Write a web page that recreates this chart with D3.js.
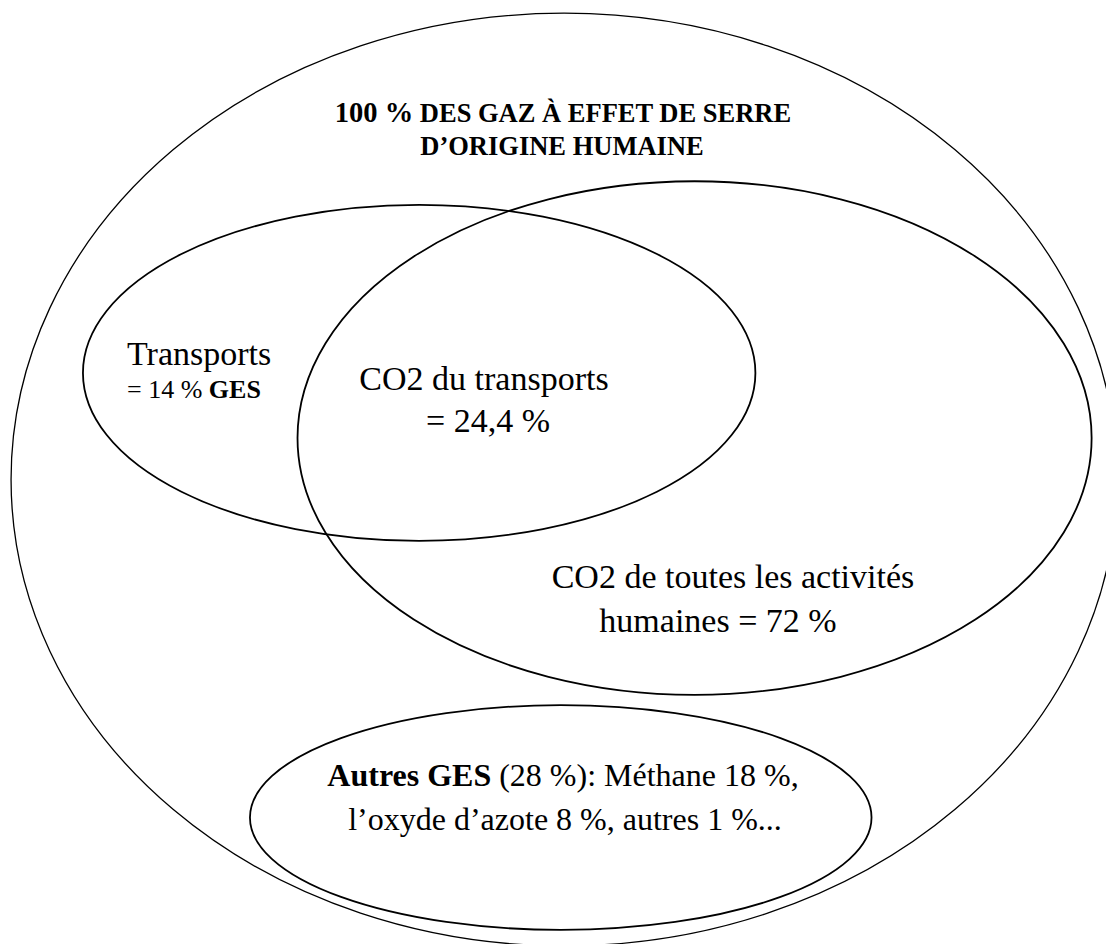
<!DOCTYPE html>
<html>
<head>
<meta charset="utf-8">
<title>Gaz à effet de serre</title>
<style>
  html, body { margin: 0; padding: 0; background: #fff; }
  svg { display: block; }
</style>
</head>
<body>
<script src="https://cdn.jsdelivr.net/npm/d3@7/dist/d3.min.js"></script>
<script>
// sets of the diagram and their shares (%)
var sets = ["total", "transports", "co2", "autres"];
var shares = [100, 14, 72, 28];
var overlapShare = 24.4;     // CO2 du transports
var otherGases = ["Méthane", "l’oxyde d’azote", "autres"];
var otherShares = [18, 8, 1];

var width = 1106, height = 944;
var font = "Liberation Serif";

// layout of each ellipse in diagram units (0..1000 on both axes)
var layout = {
  total:      { cx: 510, cy: 508, rx: 500, ry: 494, w: 1.3 },
  transports: { cx: 379, cy: 395, rx: 304, ry: 178, w: 1.8 },
  co2:        { cx: 628, cy: 464, rx: 359, ry: 272, w: 1.8 },
  autres:     { cx: 507, cy: 866, rx: 281, ry: 119, w: 1.8 }
};

var x = d3.scaleLinear().domain([0, 1000]).range([0, width]);
var y = d3.scaleLinear().domain([0, 1000]).range([0, height]);

var svg = d3.select("body").append("svg")
    .attr("width", width)
    .attr("height", height);

svg.selectAll("ellipse.set")
    .data(sets)
  .enter().append("ellipse")
    .attr("class", "set")
    .attr("cx", function(d) { return x(layout[d].cx); })
    .attr("cy", function(d) { return y(layout[d].cy); })
    .attr("rx", function(d) { return x(layout[d].rx) - x(0); })
    .attr("ry", function(d) { return y(layout[d].ry) - y(0); })
    .attr("fill", "none")
    .attr("stroke", "#000")
    .attr("stroke-width", function(d) { return layout[d].w; });

function fmt(v) { return String(v).replace(".", ","); }
function label() {
  return svg.append("text").style("font-family", font).attr("fill", "#000");
}

// title
var t = label().attr("text-anchor", "middle").attr("font-weight", "bold");
t.append("tspan").attr("x", 563).attr("y", 122)
  .attr("font-size", 28.5).text(shares[0] + " %");
t.append("tspan").attr("font-size", 26.5).text(" DES GAZ À EFFET DE SERRE");
t.append("tspan").attr("x", 562).attr("y", 155)
  .attr("font-size", 26.5).text("D’ORIGINE HUMAINE");

// transports
label().attr("x", 127).attr("y", 365).attr("font-size", 34).text("Transports");
var tr = label().attr("x", 127).attr("y", 398).attr("font-size", 26);
tr.append("tspan").text("= " + shares[1] + " % ");
tr.append("tspan").attr("font-weight", "bold").text("GES");

// overlap
var ov = label().attr("text-anchor", "middle").attr("font-size", 34);
ov.append("tspan").attr("x", 484).attr("y", 390).text("CO2 du transports");
ov.append("tspan").attr("x", 488).attr("y", 432).text("= " + fmt(overlapShare) + " %");

// co2
var co = label().attr("text-anchor", "middle").attr("font-size", 34);
co.append("tspan").attr("x", 733).attr("y", 588).text("CO2 de toutes les activités");
co.append("tspan").attr("x", 718).attr("y", 632).text("humaines = " + shares[2] + " %");

// autres
var au = label().attr("text-anchor", "middle").attr("font-size", 32);
au.append("tspan").attr("x", 563).attr("y", 786).attr("font-weight", "bold").text("Autres GES");
au.append("tspan").text(" (" + shares[3] + " %): " + otherGases[0] + " " + otherShares[0] + " %,");
au.append("tspan").attr("x", 565).attr("y", 830)
  .text(otherGases[1] + " " + otherShares[1] + " %, " + otherGases[2] + " " + otherShares[2] + " %...");
</script>
</body>
</html>
